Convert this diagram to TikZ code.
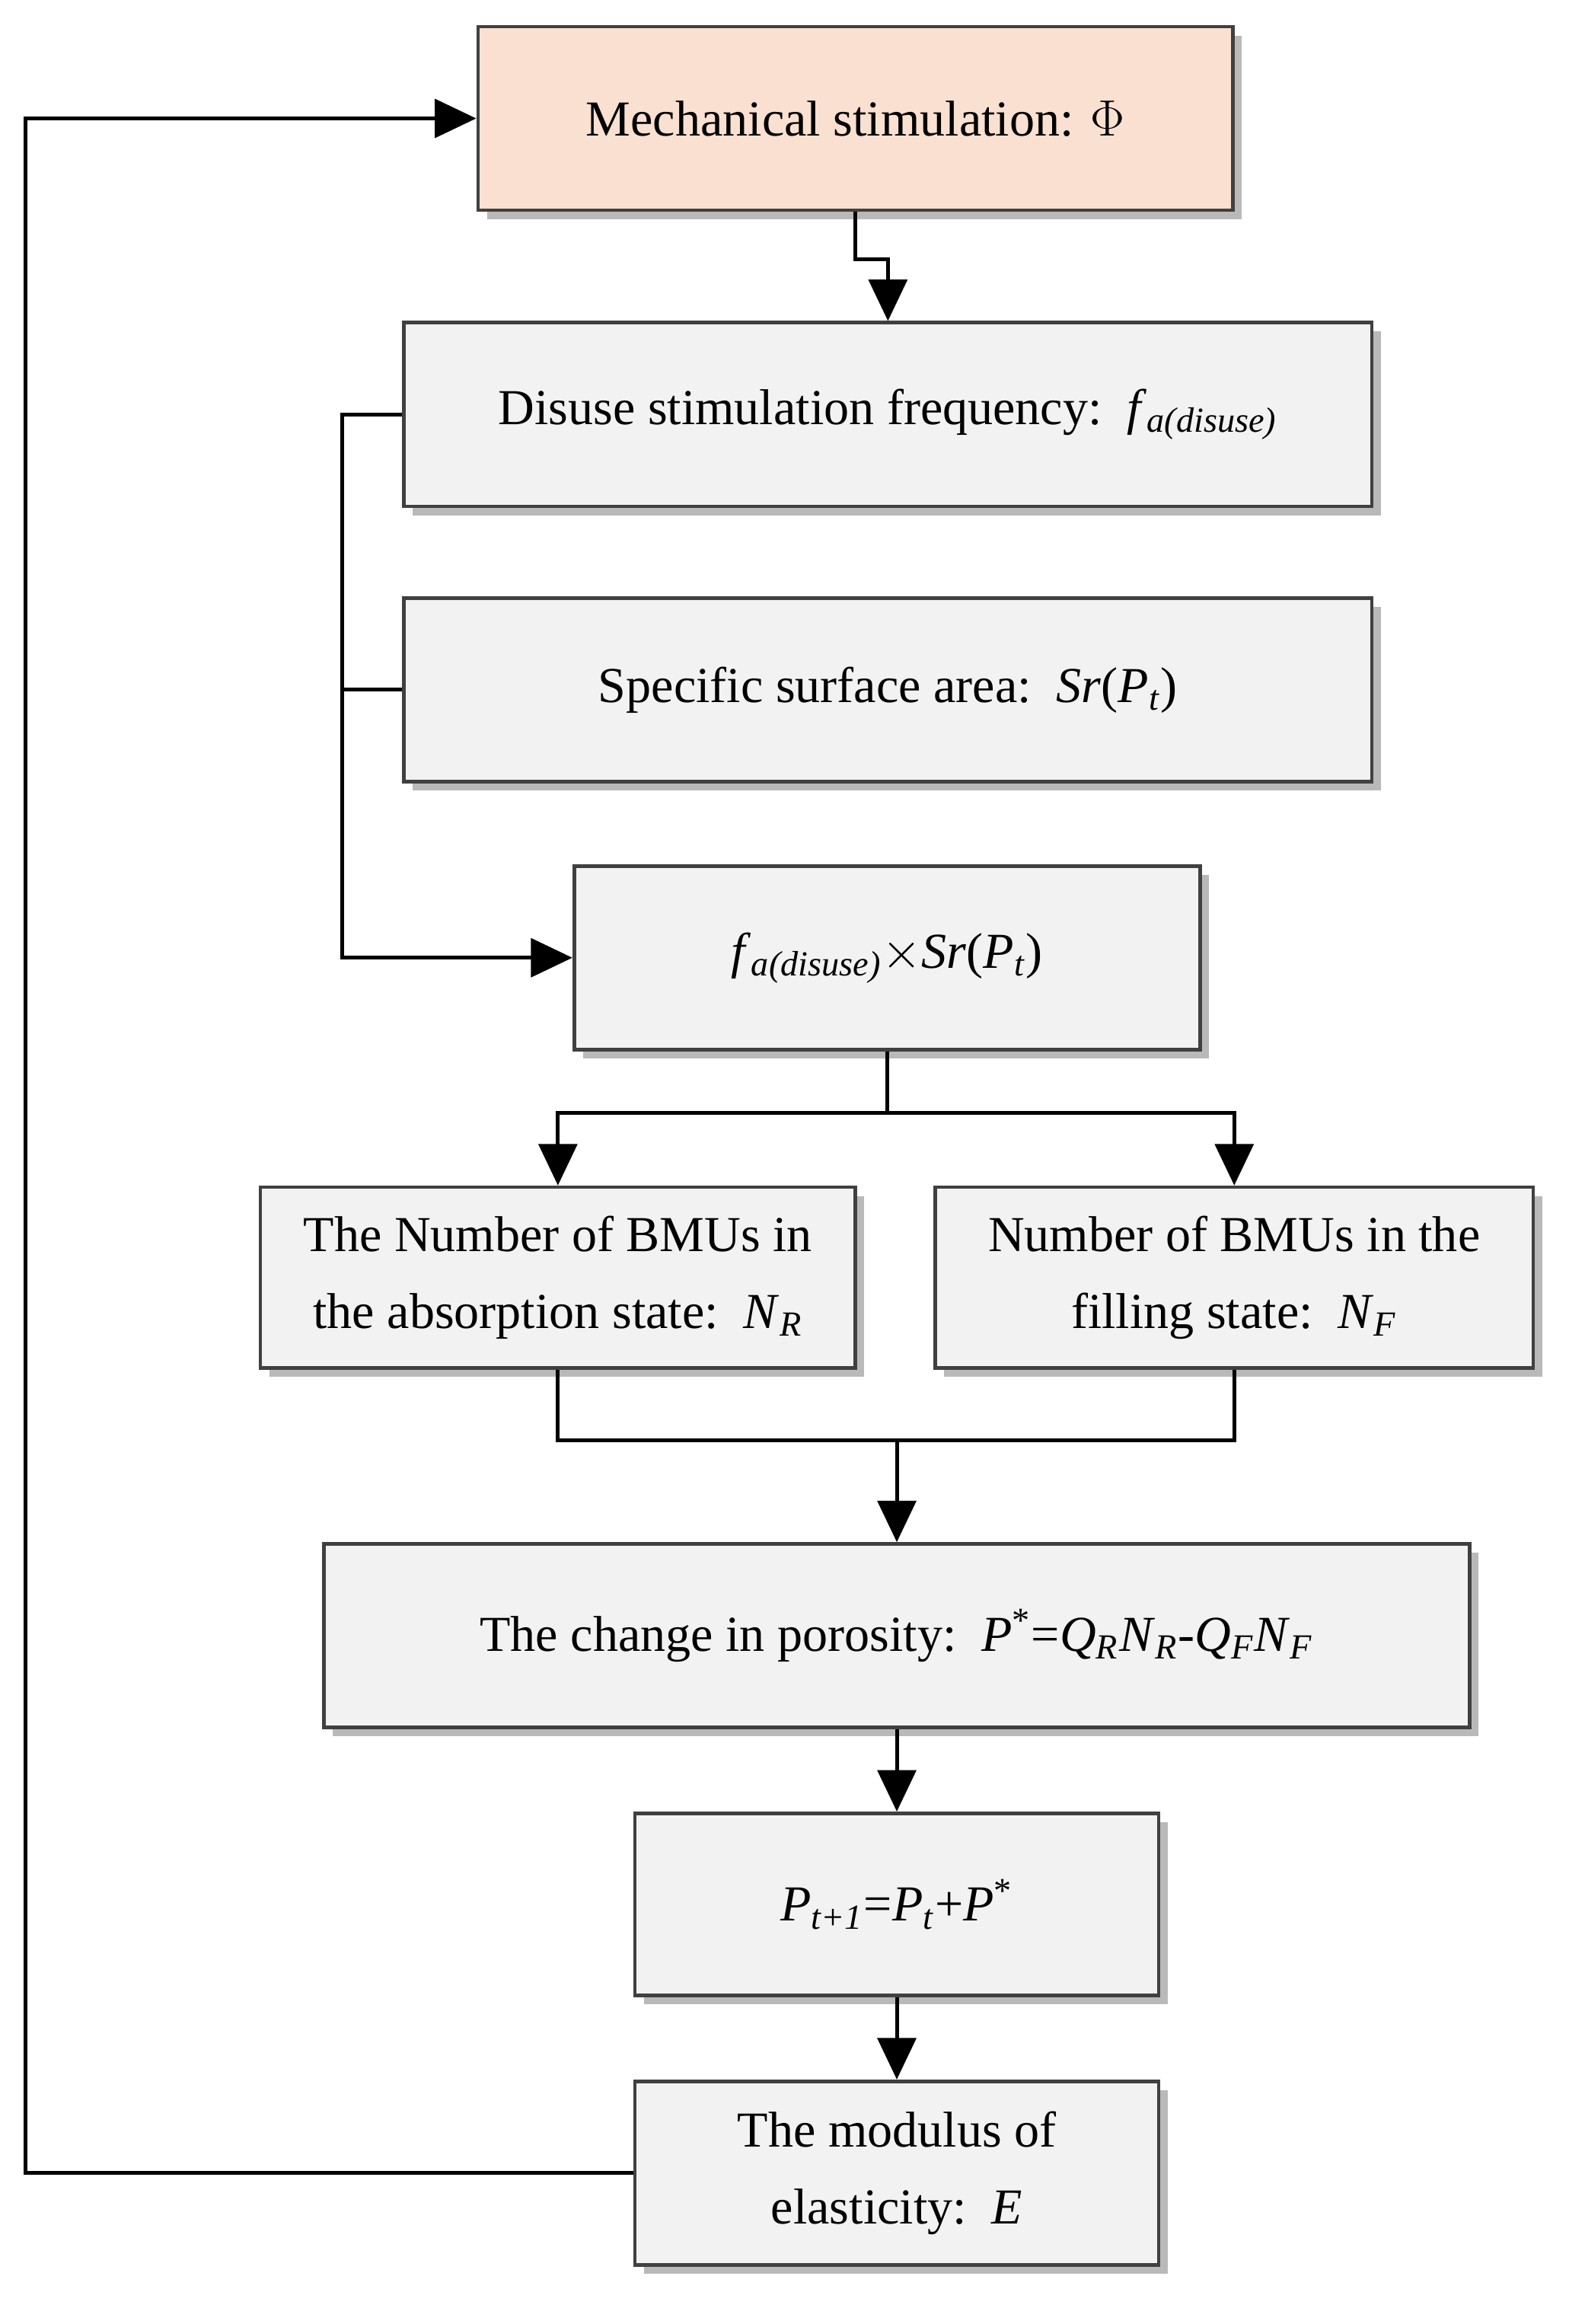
\documentclass[tikz,border=0pt]{standalone}
\usepackage{fontspec}
\setmainfont{Liberation Serif}
\usetikzlibrary{shadows,arrows.meta,calc}
\newcommand{\iv}[1]{\textit{#1}}
\newcommand{\sbi}[1]{\textsubscript{\textit{#1}}}
\begin{document}
\begin{tikzpicture}[x=0.5pt,y=-0.5pt,
  box/.style={draw=black!75,line width=1.2pt,fill=gray!10,align=center,inner sep=2pt,
    font=\fontsize{17}{26}\selectfont,
    drop shadow={shadow xshift=3pt,shadow yshift=-3pt,fill=gray!55,opacity=1}},
  ln/.style={line width=1.3pt,black},
  ar/.style={ln,-{Triangle[length=14pt,width=13pt]}}]
\useasboundingbox (0,0) rectangle (1060,1570);
\node[box,fill={rgb,255:red,250;green,224;blue,208},minimum width=255pt,minimum height=62pt] (mech) at (578,80) {Mechanical stimulation: $\Phi$};
\node[box,minimum width=327pt,minimum height=62pt] (dis) at (600,280) {Disuse stimulation frequency:\ \ \iv{f}\sbi{a(disuse)}};
\node[box,minimum width=327pt,minimum height=62pt] (spec) at (600,466) {Specific surface area:\ \ \iv{Sr}(\iv{P}\sbi{t})};
\node[box,minimum width=211.5pt,minimum height=62pt] (prod) at (599.5,647) {\iv{f}\sbi{a(disuse)}$\times$\iv{Sr}(\iv{P}\sbi{t})};
\node[box,minimum width=201pt,minimum height=61pt] (nr) at (377,863) {The Number of BMUs in\\the absorption state:\ \ \iv{N}\sbi{R}};
\node[box,minimum width=202pt,minimum height=61pt] (nf) at (834,863) {Number of BMUs in the\\filling state:\ \ \iv{N}\sbi{F}};
\node[box,minimum width=387pt,minimum height=62pt] (por) at (606,1105) {The change in porosity:\ \ \iv{P}\textsuperscript{*}=\iv{Q}\sbi{R}\iv{N}\sbi{R}-\iv{Q}\sbi{F}\iv{N}\sbi{F}};
\node[box,minimum width=177pt,minimum height=61.5pt] (pt) at (606,1286.5) {\iv{P}\sbi{t+1}=\iv{P}\sbi{t}+\iv{P}\textsuperscript{*}};
\node[box,minimum width=177pt,minimum height=62pt] (e) at (606,1468) {The modulus of\\elasticity:\ \ \iv{E}};
\coordinate (m1) at (578,175);
\coordinate (m2) at (600,175);
\draw[ar] (mech.south) -- (m1) -- (m2) -- (dis.north);
\coordinate (b1) at (231,280);
\coordinate (b2) at (231,466);
\coordinate (b3) at (231,647);
\draw[ln] (dis.west) -- (b1) -- (b2);
\draw[ln] (spec.west) -- (b2);
\draw[ar] (b2) -- (b3) -- (prod.west);
\coordinate (s1) at (599.5,752);
\coordinate (s2) at (377,752);
\coordinate (s3) at (834,752);
\draw[ln] (prod.south) -- (s1);
\draw[ar] (s1) -- (s2) -- (nr.north);
\draw[ar] (s1) -- (s3) -- (nf.north);
\coordinate (j1) at (377,973);
\coordinate (j2) at (834,973);
\coordinate (j3) at (606,973);
\draw[ln] (nr.south) -- (j1) -- (j2) -- (nf.south);
\draw[ar] (j3) -- (por.north);
\draw[ar] (por.south) -- (pt.north);
\draw[ar] (pt.south) -- (e.north);
\coordinate (f1) at (17,1468);
\coordinate (f2) at (17,80);
\draw[ar] (e.west) -- (f1) -- (f2) -- (mech.west);
\end{tikzpicture}
\end{document}
